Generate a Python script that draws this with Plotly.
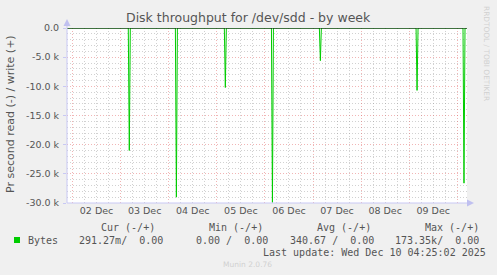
import plotly.graph_objects as go
import pandas as pd

# ---- data ----
range_start = "2025-12-01 21:15"
range_end = "2025-12-10 04:50"
spike_times = ["2025-12-03 04:20", "2025-12-04 03:50", "2025-12-05 04:15",
               "2025-12-06 03:45", "2025-12-07 03:40", "2025-12-09 03:55",
               "2025-12-10 03:20"]
spike_reads = [-21000, -29000, -10200, -29900, -5600, -10700, -26600]
y_tick_vals = [0, -5000, -10000, -15000, -20000, -25000, -30000]
y_tick_text = ["0.0", "-5.0 k", "-10.0 k", "-15.0 k", "-20.0 k", "-25.0 k", "-30.0 k"]
legend_headers = ["Cur (-/+)", "Min (-/+)", "Avg (-/+)", "Max (-/+)"]
legend_values = ["291.27m/  0.00", "0.00 /  0.00", "340.67 /  0.00", "173.35k/  0.00"]
series_name = "Bytes"
last_update = "Last update: Wed Dec 10 04:25:02 2025"

half = pd.Timedelta(minutes=30)
xs = [pd.Timestamp(range_start)]
ys = [0]
for t, v in zip(spike_times, spike_reads):
    ts = pd.Timestamp(t)
    xs += [ts - half, ts, ts + half]
    ys += [0, v, 0]
xs.append(pd.Timestamp(range_end))
ys.append(0)

GREEN = "#00cc00"
TXT = "#555555"
L, R, T, B = 67, 467, 28, 203
W, H = 497, 275


def px(x):
    return (x - L) / (R - L)


def py(y):
    return (B - y) / (B - T)


fig = go.Figure()
fig.add_trace(go.Scatter(x=xs, y=ys, mode="lines",
                         line=dict(color=GREEN, width=1), hoverinfo="skip",
                         showlegend=False))

axis_col = "#c8c8f4"
shapes = [
    dict(type="line", xref="paper", yref="y", x0=0, x1=1, y0=0, y1=0,
         line=dict(color="black", width=1), layer="above"),
    dict(type="line", xref="paper", yref="paper", x0=0, x1=0, y0=0, y1=py(24),
         line=dict(color=axis_col, width=1), layer="above"),
    dict(type="line", xref="paper", yref="paper", x0=0, x1=px(470), y0=0, y1=0,
         line=dict(color=axis_col, width=1), layer="above"),
    dict(type="path", xref="paper", yref="paper",
         path=f"M {px(67)} {py(19)} L {px(63.5)} {py(26)} L {px(70.5)} {py(26)} Z",
         fillcolor="#c0c0f0", line=dict(width=0), layer="above"),
    dict(type="path", xref="paper", yref="paper",
         path=f"M {px(474)} {py(203)} L {px(467)} {py(199.5)} L {px(467)} {py(206.5)} Z",
         fillcolor="#c0c0f0", line=dict(width=0), layer="above"),
]

ann = []
ann.append(dict(text="Disk throughput for /dev/sdd - by week", x=px(248), y=py(18),
                xref="paper", yref="paper", showarrow=False, xanchor="center",
                yanchor="middle", font=dict(family="DejaVu Sans", size=12.5, color=TXT)))
ann.append(dict(text="Pr second read (-) / write (+)", x=px(10), y=py(114),
                xref="paper", yref="paper", showarrow=False, textangle=-90,
                xanchor="center", yanchor="middle",
                font=dict(family="DejaVu Sans", size=11, color=TXT)))
ann.append(dict(text="RRDTOOL / TOBI OETIKER", x=px(487), y=py(53),
                xref="paper", yref="paper", showarrow=False, textangle=90,
                xanchor="center", yanchor="middle",
                font=dict(family="DejaVu Sans", size=7.4, color="#d0d0d0")))
mono = dict(family="DejaVu Sans Mono", size=10, color=TXT)
for h, xp in zip(legend_headers, [98.7, 206.7, 315, 422.7]):
    ann.append(dict(text=h, x=px(xp), y=py(227), xref="paper", yref="paper",
                    showarrow=False, xanchor="left", yanchor="middle", font=mono))
ann.append(dict(text=series_name, x=px(26), y=py(240), xref="paper", yref="paper",
                showarrow=False, xanchor="left", yanchor="middle", font=mono))
for v, xp in zip(legend_values, [77, 194, 287.7, 393]):
    ann.append(dict(text=v, x=px(xp), y=py(240), xref="paper", yref="paper",
                    showarrow=False, xanchor="left", yanchor="middle", font=mono))
ann.append(dict(text=last_update, x=px(261), y=py(252), xref="paper", yref="paper",
                showarrow=False, xanchor="left", yanchor="middle", font=mono))
ann.append(dict(text="Munin 2.0.76", x=px(247.5), y=py(264), xref="paper", yref="paper",
                showarrow=False, xanchor="center", yanchor="middle",
                font=dict(family="DejaVu Sans", size=7.5, color="#d0d0d0")))

shapes.append(dict(type="rect", xref="paper", yref="paper",
                   x0=px(14), x1=px(20), y0=py(237), y1=py(243),
                   fillcolor=GREEN, line=dict(width=0)))

red_grid = "rgba(225,90,90,0.45)"
gray_grid = "rgba(140,140,140,0.4)"
fig.update_layout(
    width=W, height=H,
    margin=dict(l=L, r=W - R, t=T, b=H - B, pad=0),
    paper_bgcolor="#f0f0f0", plot_bgcolor="white",
    shapes=shapes, annotations=ann, showlegend=False,
    xaxis=dict(type="date", range=[range_start, range_end],
               tick0="2025-12-02", dtick=86400000, tickformat="%d %b",
               ticklabelmode="period", showgrid=True, gridcolor=red_grid,
               griddash="1px,2px", gridwidth=1, zeroline=False, showline=False,
               ticks="", tickfont=dict(family="DejaVu Sans", size=9.5, color=TXT),
               minor=dict(dtick=6 * 3600 * 1000, showgrid=True, gridcolor=gray_grid,
                          griddash="1px,2px", gridwidth=1),
               fixedrange=True),
    yaxis=dict(range=[-30000, 0], tickvals=y_tick_vals, ticktext=y_tick_text,
               showgrid=True, gridcolor=red_grid, griddash="1px,2px", gridwidth=1,
               zeroline=False, showline=False, ticks="outside", ticklen=3,
               tickcolor=axis_col, ticklabelstandoff=2,
               tickfont=dict(family="DejaVu Sans", size=9.5, color=TXT),
               minor=dict(tickvals=[-1000 * i for i in range(1, 30) if i % 5],
                          showgrid=True, gridcolor=gray_grid,
                          griddash="1px,2px", gridwidth=1),
               fixedrange=True),
)

fig.write_html("out.html")
